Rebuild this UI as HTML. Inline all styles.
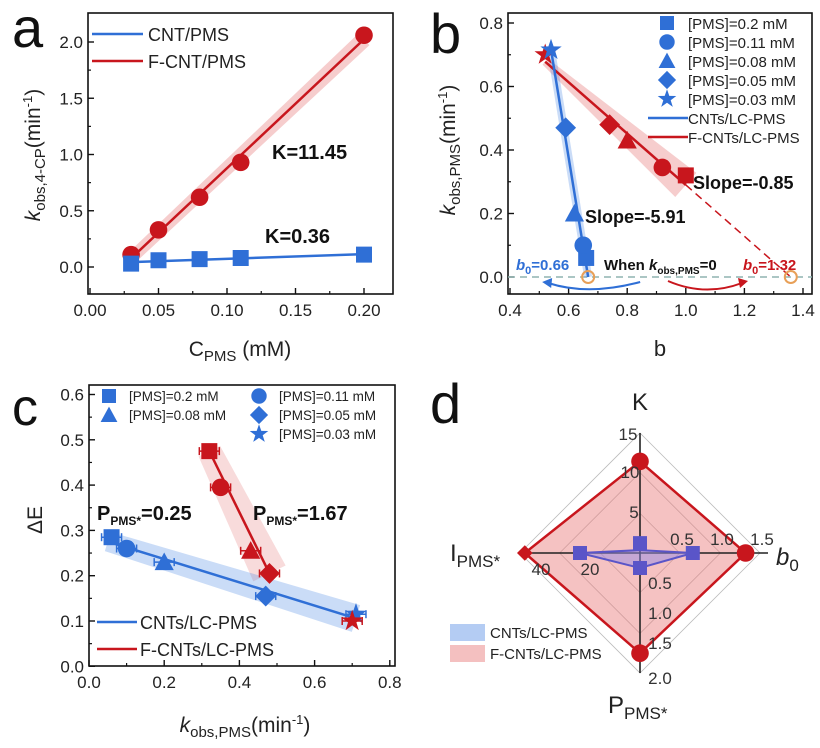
<!DOCTYPE html>
<html><head><meta charset="utf-8">
<style>
html,body{margin:0;padding:0;background:#fff;}
svg{display:block;font-family:"Liberation Sans",Arial,sans-serif;}
</style></head>
<body>
<svg id="fig" width="820" height="748" viewBox="0 0 820 748" xmlns="http://www.w3.org/2000/svg">
<g id="pa"></g>
<g id="pb"></g>
<g id="pc"></g>
<g id="pd"></g>
</svg>
<script>
// ---------- data ----------
const aX = [0.03, 0.05, 0.08, 0.11, 0.2];
const aRed = [0.11, 0.33, 0.62, 0.93, 2.06];
const aBlue = [0.03, 0.06, 0.07, 0.08, 0.11];
const aXTicks = [0.00, 0.05, 0.10, 0.15, 0.20];
const aYTicks = [0.0, 0.5, 1.0, 1.5, 2.0];

const bMarkers = ['square','circle','triangle','diamond','star'];
const bLegend = ['[PMS]=0.2 mM','[PMS]=0.11 mM','[PMS]=0.08 mM','[PMS]=0.05 mM','[PMS]=0.03 mM'];
const bBlueX = [0.66, 0.65, 0.62, 0.59, 0.54];
const bBlueY = [0.06, 0.10, 0.20, 0.47, 0.715];
const bRedX = [1.0, 0.92, 0.80, 0.74, 0.52];
const bRedY = [0.32, 0.345, 0.43, 0.48, 0.70];
const bXTicks = [0.4, 0.6, 0.8, 1.0, 1.2, 1.4];
const bYTicks = [0.0, 0.2, 0.4, 0.6, 0.8];

const cBlueX = [0.06, 0.10, 0.20, 0.47, 0.71];
const cBlueY = [0.285, 0.26, 0.23, 0.155, 0.115];
const cRedX = [0.32, 0.35, 0.43, 0.48, 0.70];
const cRedY = [0.475, 0.395, 0.255, 0.205, 0.10];
const cXTicks = [0.0, 0.2, 0.4, 0.6, 0.8];
const cYTicks = [0.0, 0.1, 0.2, 0.3, 0.4, 0.5, 0.6];

const dAxes = ['K', 'b0', 'P', 'I'];
const dMax = [15, 1.5, 2.0, 50];
const dRed = [11.45, 1.32, 1.67, 48];
const dBlue = [0.36, 0.66, 0.25, 25];

// ---------- helpers ----------
const NS = 'http://www.w3.org/2000/svg';
function el(parent, tag, attrs, text){
  const e = document.createElementNS(NS, tag);
  for (const k in attrs) e.setAttribute(k, attrs[k]);
  if (text !== undefined) e.textContent = text;
  parent.appendChild(e);
  return e;
}
const BLUE = '#2f6fd6', RED = '#c8161d';
function marker(g, type, x, y, s, color){
  let e;
  if (type === 'square') e = el(g,'rect',{x:x-s,y:y-s,width:2*s,height:2*s,fill:color});
  else if (type === 'circle') e = el(g,'circle',{cx:x,cy:y,r:s*1.1,fill:color});
  else if (type === 'triangle') e = el(g,'polygon',{points:`${x},${y-s*1.2} ${x+s*1.2},${y+s} ${x-s*1.2},${y+s}`,fill:color});
  else if (type === 'diamond') e = el(g,'polygon',{points:`${x},${y-s*1.3} ${x+s*1.3},${y} ${x},${y+s*1.3} ${x-s*1.3},${y}`,fill:color});
  else {
    let p = [];
    for (let i=0;i<10;i++){ const r = i%2? s*0.55 : s*1.4; const a = -Math.PI/2 + i*Math.PI/5; p.push((x+r*Math.cos(a)).toFixed(1)+','+(y+r*Math.sin(a)).toFixed(1)); }
    e = el(g,'polygon',{points:p.join(' '),fill:color});
  }
  
  
  return e;
}
function fit(xs, ys){
  const n=xs.length; let sx=0,sy=0,sxx=0,sxy=0;
  for(let i=0;i<n;i++){sx+=xs[i];sy+=ys[i];sxx+=xs[i]*xs[i];sxy+=xs[i]*ys[i];}
  const m=(n*sxy-sx*sy)/(n*sxx-sx*sx); return {m:m, b:(sy-m*sx)/n};
}
function band(g, x1,y1,x2,y2,w1,w2,color,name){
  const dx=x2-x1, dy=y2-y1, L=Math.hypot(dx,dy), nx=-dy/L, ny=dx/L;
  const e = el(g,'polygon',{points:`${x1+nx*w1},${y1+ny*w1} ${x2+nx*w2},${y2+ny*w2} ${x2-nx*w2},${y2-ny*w2} ${x1-nx*w1},${y1-ny*w1}`,fill:color});
  
  
}
function frame(g, x0,y0,x1,y1){
  const r = el(g,'rect',{x:x0,y:y0,width:x1-x0,height:y1-y0,fill:'none',stroke:'#111','stroke-width':1.6});
  
  
}
function xTicks(g, ticks, fx, yb, fmt, fs, minor){
  ticks.forEach((t,i)=>{
    const x = fx(t);
    el(g,'line',{x1:x,y1:yb,x2:x,y2:yb-6,stroke:'#111','stroke-width':1.4});
    const tx = el(g,'text',{x:x,y:yb+22,'font-size':fs,'text-anchor':'middle',fill:'#222'}, fmt(t));
    
    
    if (minor && i<ticks.length-1){ const xm = fx((t+ticks[i+1])/2); el(g,'line',{x1:xm,y1:yb,x2:xm,y2:yb-3,stroke:'#111','stroke-width':1.2}); }
  });
}
function yTicks(g, ticks, fy, xl, fmt, fs, minor){
  ticks.forEach((t,i)=>{
    const y = fy(t);
    el(g,'line',{x1:xl,y1:y,x2:xl+6,y2:y,stroke:'#111','stroke-width':1.4});
    const tx = el(g,'text',{x:xl-5,y:y+6,'font-size':fs,'text-anchor':'end',fill:'#222'}, fmt(t));
    
    
    if (minor && i<ticks.length-1){ const ym = fy((t+ticks[i+1])/2); el(g,'line',{x1:xl,y1:ym,x2:xl+3,y2:ym,stroke:'#111','stroke-width':1.2}); }
  });
}
function html(g, x, y, attrs, markup, name){
  const t = el(g,'text',Object.assign({x:x,y:y},attrs));
  t.innerHTML = markup;
  
  
  return t;
}

// ---------- panel a ----------
(function(){
  const g = document.getElementById('pa');
  const fx = v => 90 + v*1370, fy = v => 267 - v*112.5;
  frame(g, 88, 13, 393, 294);
  xTicks(g, aXTicks, fx, 294, t=>t.toFixed(2), 17, true);
  yTicks(g, aYTicks, fy, 88, t=>t.toFixed(1), 17, true);
  const fr = fit(aX, aRed), fb = fit(aX, aBlue);
  const xa = aX[0], xz = aX[aX.length-1];
  band(g, fx(xa), fy(fr.b+fr.m*xa), fx(xz), fy(fr.b+fr.m*xz), 6, 8, 'rgba(225,90,90,0.3)', 'red-confidence-band');
  const lr = el(g,'line',{x1:fx(xa),y1:fy(fr.b+fr.m*xa),x2:fx(xz),y2:fy(fr.b+fr.m*xz),stroke:RED,'stroke-width':2.5});
   
  const lb = el(g,'line',{x1:fx(xa),y1:fy(fb.b+fb.m*xa),x2:fx(xz),y2:fy(fb.b+fb.m*xz),stroke:BLUE,'stroke-width':2.5});
   
  aX.forEach((x,i)=>{ marker(g,'circle',fx(x),fy(aRed[i]),8,RED); marker(g,'square',fx(x),fy(aBlue[i]),8,BLUE); });
  el(g,'line',{x1:92,y1:34,x2:143,y2:34,stroke:BLUE,'stroke-width':2.5});
  el(g,'line',{x1:92,y1:61,x2:143,y2:61,stroke:RED,'stroke-width':2.5});
  html(g,148,41,{'font-size':18,fill:'#222'},'CNT/PMS','legend-cnt');
  html(g,148,68,{'font-size':18,fill:'#222'},'F-CNT/PMS','legend-fcnt');
  html(g,272,159,{'font-size':20,'font-weight':'bold',fill:'#111'},'K=11.45','k-annotation-red');
  html(g,265,243,{'font-size':20,'font-weight':'bold',fill:'#111'},'K=0.36','k-annotation-blue');
  html(g,12,47,{'font-size':56,fill:'#111'},'a','panel-label-a');
  html(g,0,0,{'font-size':21,fill:'#222','text-anchor':'middle',transform:'translate(40,155) rotate(-90)'},
    '<tspan font-style="italic">k</tspan><tspan font-size="15" dy="5">obs,4-CP</tspan><tspan dy="-5">(min</tspan><tspan font-size="13" dy="-8">-1</tspan><tspan dy="8">)</tspan>','y-axis-title-a');
  html(g,240,356,{'font-size':21,fill:'#222','text-anchor':'middle'},'C<tspan font-size="15" dy="5">PMS</tspan><tspan dy="-5"> (mM)</tspan>','x-axis-title-a');
})();

// ---------- panel b ----------
(function(){
  const g = document.getElementById('pb');
  const fx = v => 510 + (v-0.4)*293, fy = v => 277 - v*317.5;
  frame(g, 508, 13, 812, 294);
  xTicks(g, bXTicks, fx, 294, t=>t.toFixed(1), 17, true);
  yTicks(g, bYTicks, fy, 508, t=>t.toFixed(1), 17, true);
  const z = el(g,'line',{x1:508,y1:fy(0),x2:812,y2:fy(0),stroke:'#8fb3b0','stroke-width':1.5,'stroke-dasharray':'7,5'});
   
  const fr = fit(bRedX, bRedY), fb = fit(bBlueX, bBlueY);
  const r0 = Math.min(...bRedX), r1 = Math.max(...bRedX), rz = -fr.b/fr.m;
  const b0 = Math.min(...bBlueX), bz = -fb.b/fb.m;
  band(g, fx(r0), fy(fr.b+fr.m*r0), fx(r1), fy(fr.b+fr.m*r1), 4, 16, 'rgba(225,90,90,0.3)', 'red-confidence-band');
  band(g, fx(b0), fy(fb.b+fb.m*b0), fx(bz), fy(0), 4, 4, 'rgba(80,140,230,0.3)', 'blue-confidence-band');
  const lr = el(g,'line',{x1:fx(r0),y1:fy(fr.b+fr.m*r0),x2:fx(r1),y2:fy(fr.b+fr.m*r1),stroke:RED,'stroke-width':2.5});
   
  const ld = el(g,'line',{x1:fx(r1),y1:fy(fr.b+fr.m*r1),x2:fx(rz),y2:fy(0),stroke:RED,'stroke-width':1.5,'stroke-dasharray':'8,5'});
   
  const lb = el(g,'line',{x1:fx(b0),y1:fy(fb.b+fb.m*b0),x2:fx(bz),y2:fy(0),stroke:BLUE,'stroke-width':2.5});
   
  bMarkers.forEach((m,i)=>{ marker(g,m,fx(bRedX[i]),fy(bRedY[i]),8,RED); marker(g,m,fx(bBlueX[i]),fy(bBlueY[i]),8,BLUE); });
  [bz, rz].forEach(v=>{ const c = el(g,'circle',{cx:fx(v),cy:fy(0),r:6,fill:'none',stroke:'#e8a058','stroke-width':2});   });
  el(g,'path',{d:`M ${fx(bz)+52} 282 Q ${fx(bz)} 296 ${fx(bz)-40} 283`,fill:'none',stroke:BLUE,'stroke-width':2});
  el(g,'polygon',{points:`${fx(bz)-46},282 ${fx(bz)-36},278 ${fx(bz)-37},288`,fill:BLUE});
  el(g,'path',{d:`M 668 281 Q 705 297 742 283`,fill:'none',stroke:RED,'stroke-width':2});
  el(g,'polygon',{points:`748,281 738,278 740,288`,fill:RED});
  bMarkers.forEach((m,i)=>{ marker(g,m,667,23+19*i,7,BLUE); html(g,688,29+19*i,{'font-size':15,fill:'#222'},bLegend[i],'legend-entry-b'); });
  el(g,'line',{x1:648,y1:118,x2:688,y2:118,stroke:BLUE,'stroke-width':2.5});
  el(g,'line',{x1:648,y1:137,x2:688,y2:137,stroke:RED,'stroke-width':2.5});
  html(g,688,124,{'font-size':15,fill:'#222'},'CNTs/LC-PMS','legend-cnts');
  html(g,688,143,{'font-size':15,fill:'#222'},'F-CNTs/LC-PMS','legend-fcnts');
  html(g,693,189,{'font-size':18,'font-weight':'bold',fill:'#111'},'Slope=-0.85','slope-red');
  html(g,585,223,{'font-size':18,'font-weight':'bold',fill:'#111'},'Slope=-5.91','slope-blue');
  html(g,516,270,{'font-size':15,'font-weight':'bold',fill:BLUE},'<tspan font-style="italic">b</tspan><tspan font-size="11" dy="4">0</tspan><tspan dy="-4">=0.66</tspan>','b0-blue');
  html(g,604,270,{'font-size':15,'font-weight':'bold',fill:'#111'},'When <tspan font-style="italic">k</tspan><tspan font-size="10" dy="4">obs,PMS</tspan><tspan dy="-4">=0</tspan>','when-label');
  html(g,743,270,{'font-size':15,'font-weight':'bold',fill:RED},'<tspan font-style="italic">b</tspan><tspan font-size="11" dy="4">0</tspan><tspan dy="-4">=1.32</tspan>','b0-red');
  html(g,430,53,{'font-size':56,fill:'#111'},'b','panel-label-b');
  html(g,0,0,{'font-size':21,fill:'#222','text-anchor':'middle',transform:'translate(455,150) rotate(-90)'},
    '<tspan font-style="italic">k</tspan><tspan font-size="15" dy="5">obs,PMS</tspan><tspan dy="-5">(min</tspan><tspan font-size="13" dy="-8">-1</tspan><tspan dy="8">)</tspan>','y-axis-title-b');
  html(g,660,356,{'font-size':22,fill:'#222','text-anchor':'middle'},'b','x-axis-title-b');
})();

// ---------- panel c ----------
(function(){
  const g = document.getElementById('pc');
  const fx = v => 89 + v*376, fy = v => 666.3 - v*453;
  frame(g, 89, 385, 395, 666);
  xTicks(g, cXTicks, fx, 666, t=>t.toFixed(1), 17, true);
  yTicks(g, cYTicks, fy, 89, t=>t.toFixed(1), 17, true);
  const fb = fit(cBlueX, cBlueY);
  const r0 = cRedX[0], r1 = cRedX[3];
  const bx0 = Math.min(...cBlueX)-0.01, bx1 = Math.max(...cBlueX);
  band(g, fx(r0), fy(cRedY[0]), fx(r1), fy(cRedY[3]), 12, 18, 'rgba(225,90,90,0.22)', 'red-confidence-band');
  band(g, fx(bx0), fy(fb.b+fb.m*bx0), fx(bx1), fy(fb.b+fb.m*bx1), 10, 14, 'rgba(80,140,230,0.3)', 'blue-confidence-band');
  const lb = el(g,'line',{x1:fx(bx0),y1:fy(fb.b+fb.m*bx0),x2:fx(bx1),y2:fy(fb.b+fb.m*bx1),stroke:BLUE,'stroke-width':2.5});
   
  const lr = el(g,'line',{x1:fx(r0),y1:fy(cRedY[0]),x2:fx(r1),y2:fy(cRedY[3]),stroke:RED,'stroke-width':2.5});
   
  bMarkers.forEach((m,i)=>{
    [[cBlueX,cBlueY,BLUE],[cRedX,cRedY,RED]].forEach(([xs,ys,c])=>{
      const x = fx(xs[i]), y = fy(ys[i]);
      el(g,'line',{x1:x-10,y1:y,x2:x+10,y2:y,stroke:c,'stroke-width':1.5});
      el(g,'line',{x1:x-10,y1:y-4,x2:x-10,y2:y+4,stroke:c,'stroke-width':1.5});
      el(g,'line',{x1:x+10,y1:y-4,x2:x+10,y2:y+4,stroke:c,'stroke-width':1.5});
      marker(g,m,x,y,8,c);
    });
  });
  const lx = [109,259,109,259,259], ly = [396,396,415,415,434];
  [0,1,2,3,4].forEach(i=>{ marker(g,bMarkers[i],lx[i],ly[i],7,BLUE); html(g,lx[i]+20,ly[i]+5,{'font-size':13.5,fill:'#222'},bLegend[i],'legend-entry-c'); });
  el(g,'line',{x1:97,y1:622,x2:137,y2:622,stroke:BLUE,'stroke-width':2.5});
  el(g,'line',{x1:97,y1:649,x2:137,y2:649,stroke:RED,'stroke-width':2.5});
  html(g,140,629,{'font-size':18,fill:'#222'},'CNTs/LC-PMS','legend-cnts-c');
  html(g,140,656,{'font-size':18,fill:'#222'},'F-CNTs/LC-PMS','legend-fcnts-c');
  html(g,97,520,{'font-size':20,'font-weight':'bold',fill:'#111'},'P<tspan font-size="12" dy="5">PMS*</tspan><tspan dy="-5">=0.25</tspan>','p-annotation-blue');
  html(g,253,520,{'font-size':20,'font-weight':'bold',fill:'#111'},'P<tspan font-size="12" dy="5">PMS*</tspan><tspan dy="-5">=1.67</tspan>','p-annotation-red');
  html(g,12,425,{'font-size':52,fill:'#111'},'c','panel-label-c');
  html(g,0,0,{'font-size':21,fill:'#222','text-anchor':'middle',transform:'translate(42,520) rotate(-90)'},'ΔE','y-axis-title-c');
  html(g,245,732,{'font-size':21,fill:'#222','text-anchor':'middle'},
    '<tspan font-style="italic">k</tspan><tspan font-size="15" dy="5">obs,PMS</tspan><tspan dy="-5">(min</tspan><tspan font-size="13" dy="-8">-1</tspan><tspan dy="8">)</tspan>','x-axis-title-c');
})();

// ---------- panel d ----------
(function(){
  const g = document.getElementById('pd');
  const cx = 640, cy = 553, R = 120;
  const dir = [[0,-1],[1,0],[0,1],[-1,0]];
  const pt = (k,v) => [cx + dir[k][0]*v/dMax[k]*R, cy + dir[k][1]*v/dMax[k]*R];
  [0.33,0.67,1].forEach(f=>{
    const p = dir.map(d=>`${cx+d[0]*R*f},${cy+d[1]*R*f}`).join(' ');
    const e = el(g,'polygon',{points:p,fill:'none',stroke:'#bbb','stroke-width':0.8});
     
  });
  const rp = el(g,'polygon',{points:dRed.map((v,k)=>pt(k,v).join(',')).join(' '),fill:'rgba(232,120,120,0.45)',stroke:'#c8161d','stroke-width':2.5});
   
  el(g,'line',{x1:cx,y1:cy-R,x2:cx,y2:cy+R,stroke:'#222','stroke-width':1.6});
  el(g,'line',{x1:cx-R,y1:cy,x2:cx+R+8,y2:cy,stroke:'#222','stroke-width':1.6});
  const bp = el(g,'polygon',{points:dBlue.map((v,k)=>pt(k,v).join(',')).join(' '),fill:'rgba(150,140,230,0.5)',stroke:'#5a55c8','stroke-width':2});
   
  dRed.forEach((v,k)=>{ const [x,y]=pt(k,v); marker(g,k===3?'diamond':'circle',x,y,k===3?6:8,'#c8161d'); });
  dBlue.forEach((v,k)=>{ const [x,y]=pt(k,v); marker(g,'square',x,y+(k===0?-7:0),7,'#5a55c8'); });
  [[15,628,440],[10,630,478],[5,634,518]].forEach(([t,x,y])=>html(g,x,y,{'font-size':17,fill:'#333','text-anchor':'middle'},String(t),'k-tick'));
  [[0.5,682],[1.0,722],[1.5,762]].forEach(([t,x])=>html(g,x,545,{'font-size':17,fill:'#333','text-anchor':'middle'},t.toFixed(1),'b0-tick'));
  [[0.5,583],[1.0,613],[1.5,643],[2.0,678]].forEach(([t,y])=>html(g,660,y+6,{'font-size':17,fill:'#333','text-anchor':'middle'},t.toFixed(1),'p-tick'));
  [[40,541],[20,590]].forEach(([t,x])=>html(g,x,575,{'font-size':17,fill:'#333','text-anchor':'middle'},String(t),'i-tick'));
  html(g,640,410,{'font-size':24,fill:'#222','text-anchor':'middle'},'K','k-axis-title');
  html(g,776,565,{'font-size':24,fill:'#222','font-style':'italic'},'b<tspan font-size="17" dy="6" font-style="normal">0</tspan>','b0-axis-title');
  html(g,450,561,{'font-size':24,fill:'#222'},'I<tspan font-size="17" dy="6">PMS*</tspan>','i-axis-title');
  html(g,608,713,{'font-size':24,fill:'#222'},'P<tspan font-size="17" dy="6">PMS*</tspan>','p-axis-title');
  html(g,430,423,{'font-size':56,fill:'#111'},'d','panel-label-d');
  const s1 = el(g,'rect',{x:450,y:624,width:35,height:17,fill:'rgba(130,170,235,0.6)'});
   
  const s2 = el(g,'rect',{x:450,y:645,width:35,height:17,fill:'rgba(235,140,140,0.55)'});
   
  html(g,490,638,{'font-size':15,fill:'#222'},'CNTs/LC-PMS','legend-cnts-d');
  html(g,490,659,{'font-size':15,fill:'#222'},'F-CNTs/LC-PMS','legend-fcnts-d');
})();
</script>
</body></html>
